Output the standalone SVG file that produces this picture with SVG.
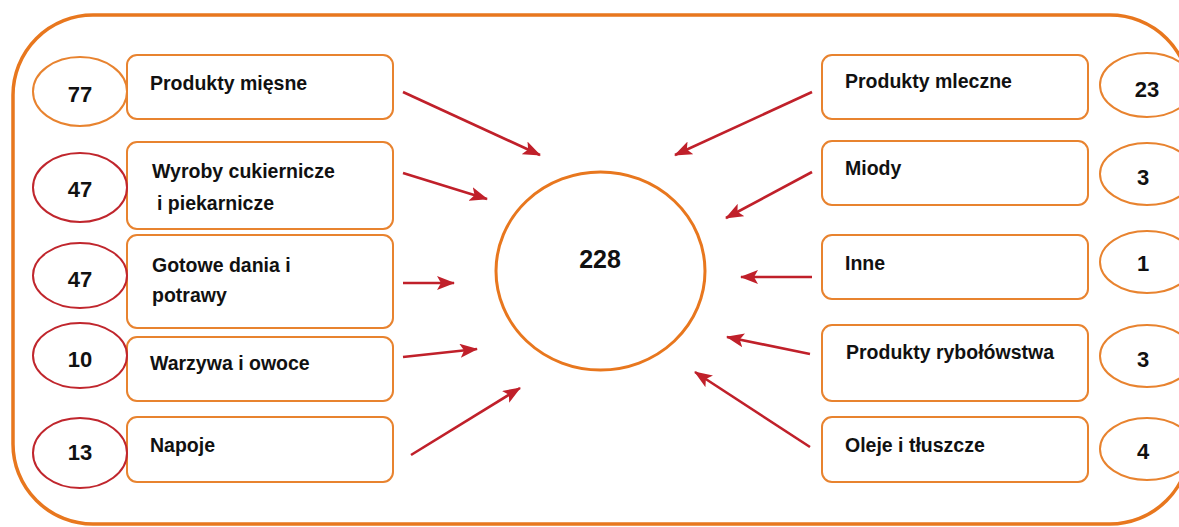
<svg xmlns="http://www.w3.org/2000/svg" width="1179" height="527" viewBox="0 0 1179 527">
  <style>
    .frame { fill: none; stroke: #E8771E; stroke-width: 3.5; }
    .box { fill: #FFFFFF; stroke: #E8832F; stroke-width: 2; }
    .oval-o { fill: #FFFFFF; stroke: #E8832F; stroke-width: 2; }
    .oval-r { fill: #FFFFFF; stroke: #C0262D; stroke-width: 2; }
    .hub { fill: #FFFFFF; stroke: #E8771E; stroke-width: 3; }
    .lbl { font-family: "Liberation Sans", Arial, sans-serif; font-weight: bold; font-size: 19.5px; fill: #111111; }
    .num { font-family: "Liberation Sans", Arial, sans-serif; font-weight: bold; font-size: 22px; fill: #111111; text-anchor: middle; }
    .big { font-size: 25px; }
    .arrow { stroke: #C0202A; stroke-width: 2.6; fill: none; marker-end: url(#head); }
  </style>
  <defs>
    <marker id="head" markerUnits="userSpaceOnUse" markerWidth="18" markerHeight="14" viewBox="0 0 18 14" refX="17" refY="7" orient="auto">
      <path d="M0,0 L18,7 L0,14 L4,7 Z" fill="#C0202A"/>
    </marker>
  </defs>

  <rect width="1179" height="527" fill="#FFFFFF"/>

  <!-- outer frame -->
  <rect class="frame" x="13" y="15" width="1177" height="509" rx="80" ry="80"/>

  <!-- hub -->
  <g id="total">
    <ellipse class="hub" cx="600.5" cy="271" rx="104.5" ry="99"/>
    <text class="num big" x="600" y="268">228</text>
  </g>

  <!-- left categories -->
  <g id="produkty-miesne">
    <rect class="box" x="127" y="55" width="266" height="64" rx="10"/>
    <ellipse class="oval-o" cx="80" cy="91.5" rx="47" ry="34.5"/>
    <text class="num" x="80" y="102">77</text>
    <text class="lbl" x="150" y="90">Produkty mięsne</text>
  </g>
  <g id="wyroby">
    <rect class="box" x="127" y="142" width="266" height="87" rx="10"/>
    <ellipse class="oval-r" cx="80" cy="187.5" rx="47" ry="34.5"/>
    <text class="num" x="80" y="197">47</text>
    <text class="lbl" x="152" y="178">Wyroby cukiernicze</text>
    <text class="lbl" x="157" y="210">i piekarnicze</text>
  </g>
  <g id="gotowe-dania">
    <rect class="box" x="127" y="235" width="266" height="93" rx="10"/>
    <ellipse class="oval-r" cx="80" cy="275.5" rx="47" ry="32.5"/>
    <text class="num" x="80" y="287">47</text>
    <text class="lbl" x="152" y="272">Gotowe dania i</text>
    <text class="lbl" x="152" y="302">potrawy</text>
  </g>
  <g id="warzywa">
    <rect class="box" x="127" y="337" width="266" height="64" rx="10"/>
    <ellipse class="oval-r" cx="80" cy="355.5" rx="47" ry="32.5"/>
    <text class="num" x="80" y="367">10</text>
    <text class="lbl" x="150" y="370">Warzywa i owoce</text>
  </g>
  <g id="napoje">
    <rect class="box" x="127" y="417" width="266" height="65" rx="10"/>
    <ellipse class="oval-r" cx="80" cy="453" rx="47" ry="35"/>
    <text class="num" x="80" y="460">13</text>
    <text class="lbl" x="150" y="452">Napoje</text>
  </g>

  <!-- right categories -->
  <g id="produkty-mleczne">
    <rect class="box" x="822" y="55" width="266" height="64" rx="10"/>
    <ellipse class="oval-o" cx="1147" cy="85" rx="47" ry="32"/>
    <text class="num" x="1147" y="97">23</text>
    <text class="lbl" x="845" y="88">Produkty mleczne</text>
  </g>
  <g id="miody">
    <rect class="box" x="822" y="141" width="266" height="64" rx="10"/>
    <ellipse class="oval-o" cx="1147" cy="174" rx="47" ry="31"/>
    <text class="num" x="1143" y="185">3</text>
    <text class="lbl" x="845" y="175">Miody</text>
  </g>
  <g id="inne">
    <rect class="box" x="822" y="235" width="266" height="64" rx="10"/>
    <ellipse class="oval-o" cx="1147" cy="262" rx="47" ry="31"/>
    <text class="num" x="1143" y="271">1</text>
    <text class="lbl" x="845" y="270">Inne</text>
  </g>
  <g id="rybolowstwo">
    <rect class="box" x="822" y="325" width="266" height="76" rx="10"/>
    <ellipse class="oval-o" cx="1147" cy="356" rx="47" ry="31"/>
    <text class="num" x="1143" y="367">3</text>
    <text class="lbl" x="846" y="359">Produkty rybołówstwa</text>
  </g>
  <g id="oleje">
    <rect class="box" x="822" y="417" width="266" height="65" rx="10"/>
    <ellipse class="oval-o" cx="1147" cy="449" rx="47" ry="31"/>
    <text class="num" x="1143" y="459">4</text>
    <text class="lbl" x="845" y="452">Oleje i tłuszcze</text>
  </g>

  <!-- connectors -->
  <g id="connectors">
    <line class="arrow" x1="403" y1="92" x2="540" y2="155"/>
    <line class="arrow" x1="403" y1="173" x2="487" y2="199"/>
    <line class="arrow" x1="403" y1="283" x2="454" y2="283"/>
    <line class="arrow" x1="403" y1="357" x2="477" y2="349"/>
    <line class="arrow" x1="411" y1="455" x2="520" y2="388"/>
    <line class="arrow" x1="812" y1="92" x2="675" y2="155"/>
    <line class="arrow" x1="812" y1="172" x2="726" y2="218"/>
    <line class="arrow" x1="812" y1="277" x2="741" y2="277"/>
    <line class="arrow" x1="810" y1="354" x2="727" y2="337"/>
    <line class="arrow" x1="810" y1="447" x2="695" y2="372"/>
  </g>
</svg>
